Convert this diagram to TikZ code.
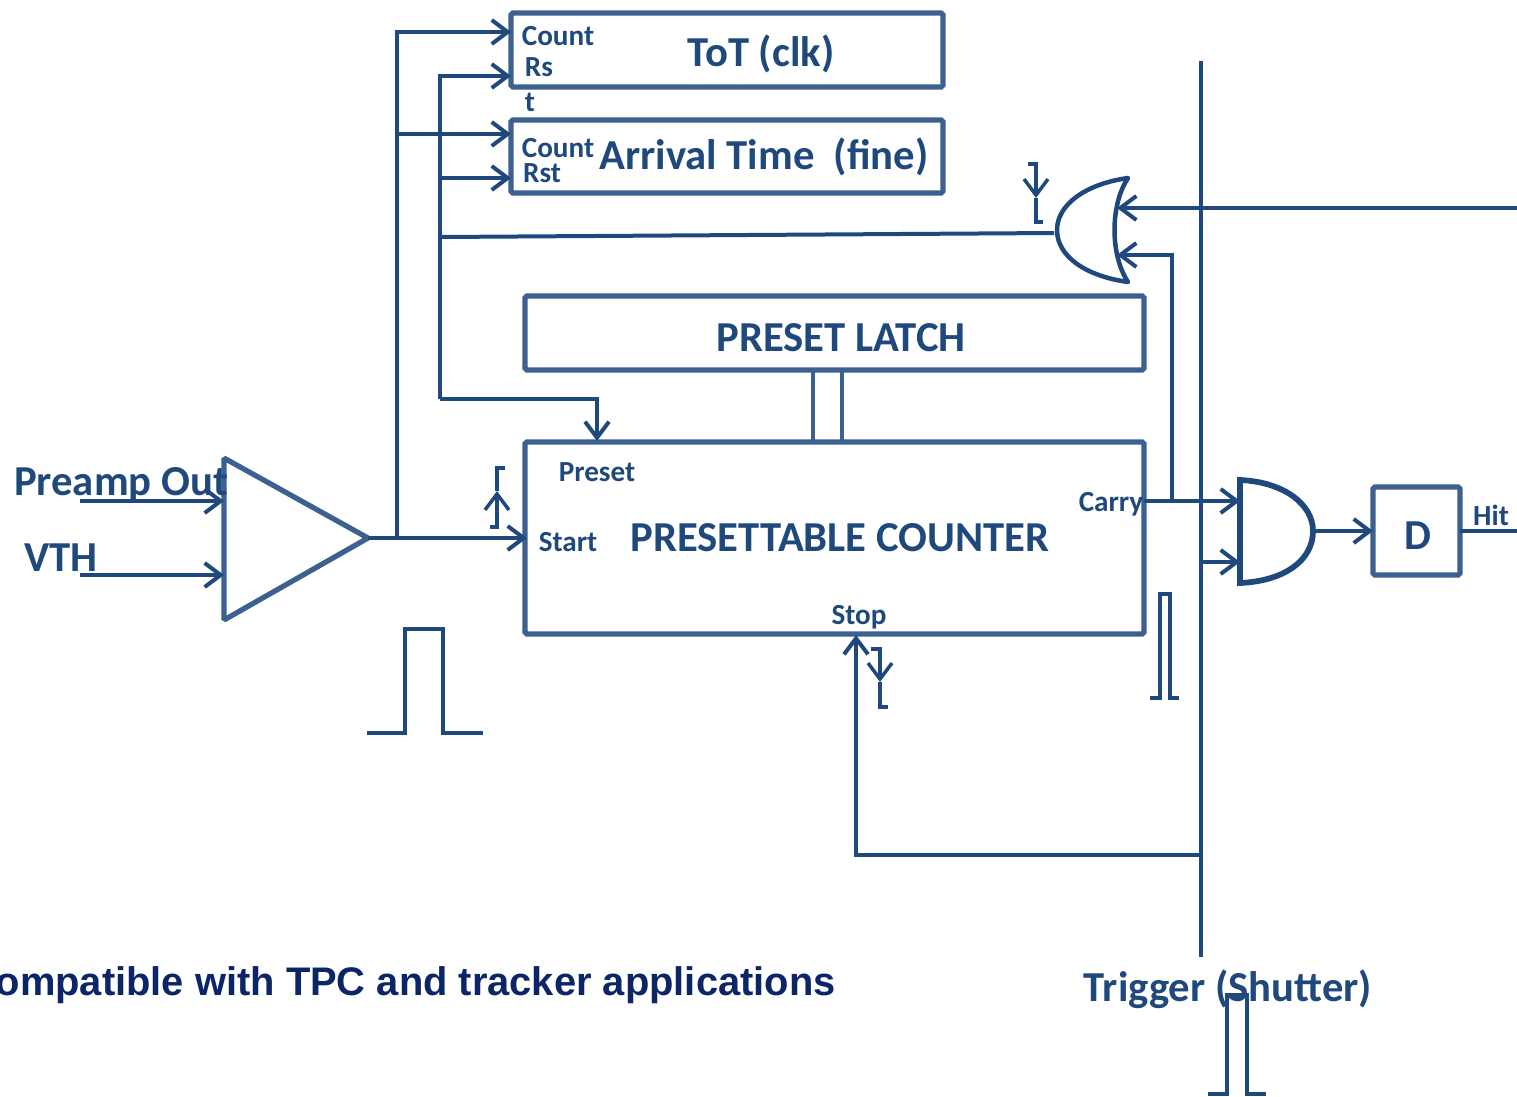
\documentclass[tikz,border=0pt]{standalone}
\usepackage{fontspec}
\setmainfont{Carlito}
\newfontfamily\captionfont{Liberation Sans}
\usetikzlibrary{arrows.meta,calc,positioning}
\definecolor{wireblue}{HTML}{1F497D}
\definecolor{boxblue}{HTML}{3C6090}
\definecolor{navytext}{HTML}{0B2566}

\begin{document}
\begin{tikzpicture}[
  x=0.02cm,y=-0.02cm,
  >={Straight Barb[length=0.32cm,width=0.48cm]},
  wire/.style={draw=wireblue,line width=0.08cm},
  thinwire/.style={draw=wireblue,line width=0.07cm},
  gate/.style={draw=wireblue,line width=0.09cm,line join=round,fill=white},
  block/.style={draw=boxblue,line width=0.105cm,rounded corners=1pt,inner sep=0pt,outer sep=0pt},
  hugetext/.style={text=wireblue,inner sep=0pt,font=\bfseries\fontsize{24.3}{26}\selectfont},
  midtext/.style={text=wireblue,inner sep=0pt,font=\bfseries\fontsize{16.6}{18}\selectfont}
]
  \useasboundingbox (0,0) rectangle (1517,1096);

  % blocks
  \node[block,minimum width=8.64cm,minimum height=1.48cm] (tot) at (727,50) {};
  \node[block,minimum width=8.64cm,minimum height=1.46cm] (arrival) at (727,156.5) {};
  \node[block,minimum width=12.38cm,minimum height=1.48cm] (latch) at (834.5,333) {};
  \node[block,minimum width=12.38cm,minimum height=3.84cm] (counter) at (834.5,538) {};
  \node[block,minimum width=1.74cm,minimum height=1.76cm] (dff) at (1416.5,531) {};

  % comparator
  \coordinate (ampout) at (368,538);
  \coordinate (ampplus) at (224,501);
  \coordinate (ampminus) at (224,575);
  \draw[block] (224,458) -- (ampout) -- (224,620) -- cycle;

  % gates
  \coordinate (orout) at (1054,233);
  \coordinate (orin) at (1117,208);
  \coordinate (orinb) at (1117,255);
  \draw[gate] (1128,178) .. controls (1085,184) and (1057,205) .. (1057,230)
    .. controls (1057,256) and (1085,276) .. (1128,282)
    .. controls (1110,255) and (1110,205) .. (1128,178) -- cycle;
  \coordinate (andin) at (1240,501);
  \coordinate (andinb) at (1240,562);
  \coordinate (andout) at (1316,531);
  \draw[gate,line width=0.115cm,line join=miter] (1240,480) .. controls (1285,482) and (1313,505) .. (1313,531)
    .. controls (1313,560) and (1285,581) .. (1240,583) -- cycle;

  % buses
  \coordinate (sigtop) at (397,32);
  \coordinate (sigjoin) at (397,538);
  \coordinate (sigbranch) at (397,134);
  \coordinate (rsttop) at (440,76);
  \coordinate (rstbranch) at (440,178);
  \coordinate (rstjoin) at (440,237);
  \coordinate (rstlow) at (440,399);
  \coordinate (presetin) at (597,441);
  \coordinate (trigtop) at (1201,61);
  \coordinate (trigbot) at (1201,957);
  \coordinate (trigjoin) at (1201,855);
  \coordinate (stopin) at (856,635);
  \coordinate (carryout) at (1144,501);
  \coordinate (carryjoin) at (1172,501);
  \coordinate (rightend) at (1517,208);
  \coordinate (hitend) at (1517,531);

  \draw[wire,->] (ampout) -- (527,538);
  \draw[wire,->] (80,501) -- (ampplus);
  \draw[wire,->] (80,575) -- (ampminus);
  \draw[wire,->] (sigjoin) -- (sigtop) -- (tot.west |- sigtop);
  \draw[wire,->] (sigbranch) -- (arrival.west |- sigbranch);
  \draw[wire,->] (rstlow) -- (rsttop) -- (tot.west |- rsttop);
  \draw[wire,->] (rstbranch) -- (arrival.west |- rstbranch);
  \draw[wire,->] (rstlow) -- (presetin |- rstlow) -- (presetin);
  \draw[wire] (rstjoin) -- (orout);
  \draw[wire] (trigtop) -- (trigbot);
  \draw[wire,->] (rightend) -- (orin);
  \draw[wire,->] (carryjoin) |- (orinb);
  \draw[wire,->] (carryout) -- (andin);
  \draw[wire,->] (trigtop |- andinb) -- (andinb);
  \draw[wire,->] (trigjoin) -- (stopin |- trigjoin) -- (stopin);
  \draw[wire,->] (andout) -- (dff.west |- andout);
  \draw[wire] (dff.east |- hitend) -- (hitend);
  \draw[wire,draw=boxblue] (813,370) -- (813,442);
  \draw[wire,draw=boxblue] (842,370) -- (842,442);

  % pulses
  \draw[wire] (367,733) -- (405,733) -- (405,629) -- (443,629) -- (443,733) -- (483,733);
  \draw[wire] (1150,698) -- (1160,698) -- (1160,594) -- (1170,594) -- (1170,698) -- (1179,698);
  \draw[wire] (1208,1094) -- (1227,1094) -- (1227,995) -- (1247,995) -- (1247,1094) -- (1266,1094);

  % edge marks
  \draw[thinwire,->] (1028,164) -- (1036,164) -- (1036,198);
  \draw[thinwire] (1036,198) -- (1036,222) -- (1043,222);
  \draw[thinwire,->] (490,527) -- (497,527) -- (497,491);
  \draw[thinwire] (497,491) -- (497,468) -- (505,468);
  \draw[thinwire,->] (871,649) -- (880,649) -- (880,682);
  \draw[thinwire] (880,682) -- (880,707) -- (888,707);

  % labels
  \node[hugetext] (tottext) at (761,54) {ToT (clk)};
  \node[hugetext] (arrivaltext) at (764,157) {Arrival Time\ \ (fine)};
  \node[hugetext] (latchtext) at (841,338) {PRESET LATCH};
  \node[hugetext] (countertext) at (840,538) {PRESETTABLE COUNTER};
  \node[hugetext] (dtext) at (1418,536) {D};
  \node[hugetext] (preamp) at (121,485) {Preamp Out};
  \node[hugetext] (vth) at (61,558) {VTH};
  \node[hugetext] (trigger) at (1228,989) {Trigger (Shutter)};
  \node[midtext] (count) at (558,36) {Count};
  \node[midtext] (rs) at (539,67) {Rs};
  \node[midtext] (rstt) at (530,102) {t};
  \node[midtext] (countb) at (558,148) {Count};
  \node[midtext] (rst) at (542,173) {Rst};
  \node[midtext] (preset) at (597,472) {Preset};
  \node[midtext] (start) at (568,542) {Start};
  \node[midtext] (carry) at (1111,504) {Carry};
  \node[midtext] (stop) at (859,617) {Stop};
  \node[midtext] (hit) at (1491,515) {Hit};
  \node[text=navytext,inner sep=0pt,anchor=east,font=\captionfont\bfseries\fontsize{22.7}{24}\selectfont] (compat) at (836,985) {ompatible with TPC and tracker applications};
\end{tikzpicture}
\end{document}
